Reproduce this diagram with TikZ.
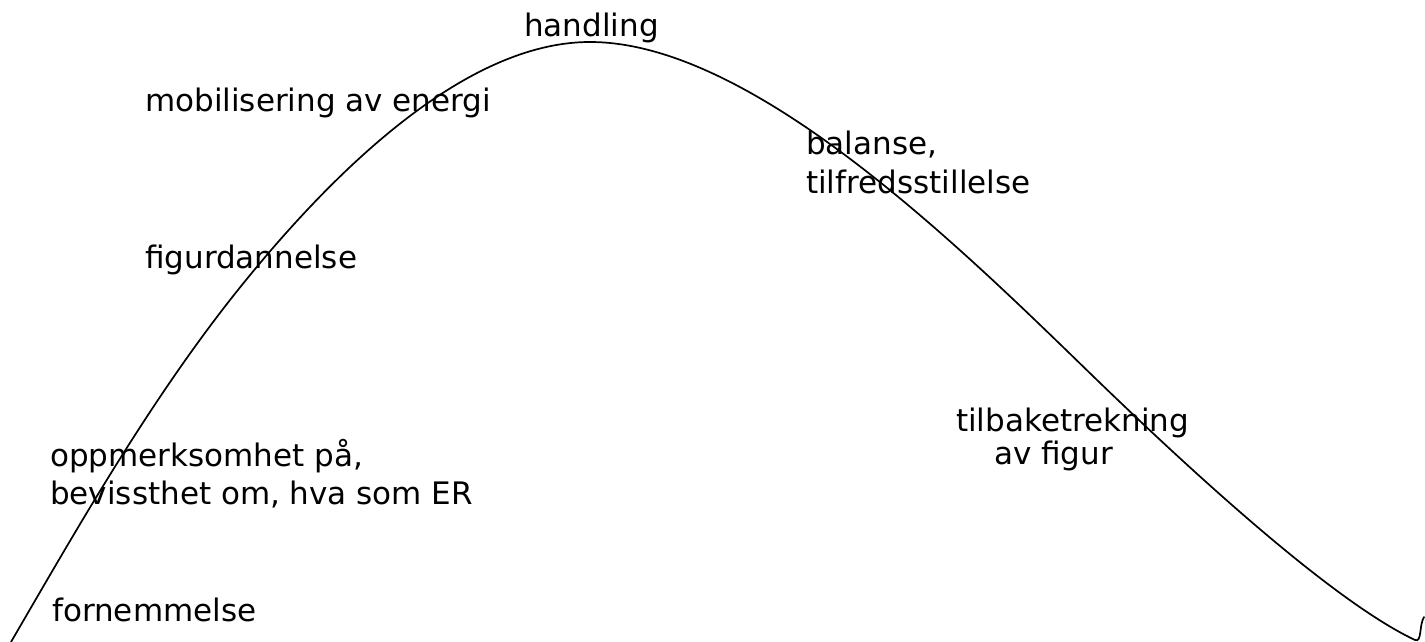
\documentclass[tikz,border=0pt]{standalone}
\usepackage{fontspec}
\setmainfont{DejaVu Sans}
\begin{document}
\begin{tikzpicture}[x=1pt,y=-1pt,
  lbl/.style={anchor=base west,inner sep=0pt,font=\fontsize{31}{37}\selectfont},
  curve/.style={line width=1.7pt,line cap=round,line join=round}]
\useasboundingbox (0,0) rectangle (1425,642);
\node[lbl] (handling) at (524,37) {handling};
\node[lbl] (mob) at (145,111) {mobilisering av energi};
\node[lbl] (bal) at (806,154) {balanse,};
\node[lbl] (tilf) at (806,193) {tilfredsstillelse};
\node[lbl] (fig) at (145,268) {figurdannelse};
\node[lbl] (opp) at (50,466) {oppmerksomhet på,};
\node[lbl] (bev) at (50,504) {bevissthet om, hva som ER};
\node[lbl] (tilb) at (956,431) {tilbaketrekning};
\node[lbl] (avf) at (994,464) {av figur};
\node[lbl] (forn) at (52,621) {fornemmelse};
\coordinate (p0) at (11,642);
\coordinate (p1) at (230,300);
\coordinate (p2) at (590,42);
\coordinate (p3) at (1097,380);
\coordinate (p4) at (1415,640);
\coordinate (p5) at (1424,617);
\draw[curve] (p0) .. controls (79,525) and (147,406) .. (p1)
  .. controls (323,182) and (460,42) .. (p2)
  .. controls (755,42) and (968,255) .. (p3)
  .. controls (1183,463) and (1330,600) .. (p4)
  .. controls (1422,643) and (1419,625) .. (p5);
\end{tikzpicture}
\end{document}
